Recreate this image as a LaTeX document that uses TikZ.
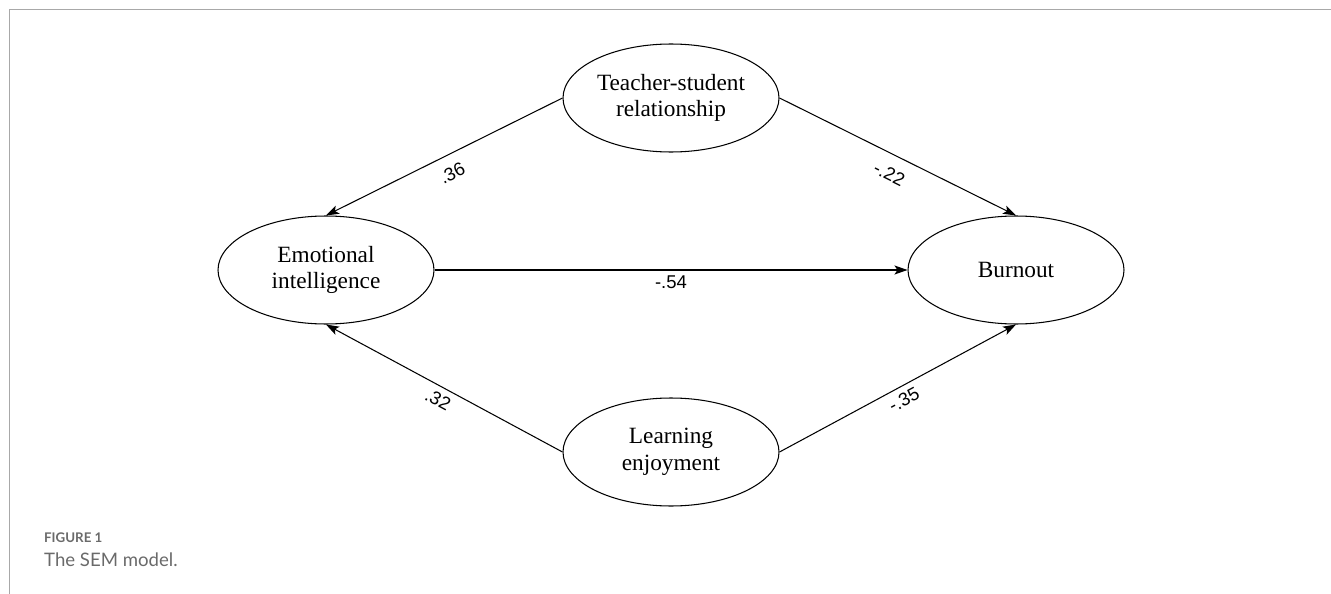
\documentclass[tikz,border=0pt]{standalone}
\usepackage{fontspec}
\setmainfont{Liberation Serif}
\newfontfamily\labfont{Liberation Sans}
\newfontfamily\capfont{Lato}
\usetikzlibrary{shapes.geometric,arrows.meta}
\definecolor{framegray}{HTML}{A8A8A8}
\definecolor{capgray}{HTML}{6A6A6A}
\begin{document}
\begin{tikzpicture}[x=1pt,y=-1pt,
  lv/.style={ellipse, draw, line width=1.05pt, minimum width=216pt, minimum height=108pt,
    inner sep=0pt, align=center, font=\fontsize{23.3}{26.5}\selectfont},
  conn/.style={-{Stealth[length=13pt,width=9pt,inset=3pt]}, line width=1.05pt},
  lbl/.style={font=\labfont\fontsize{18.5}{20}\selectfont, sloped, inner sep=0pt, pos=0.5},
  capt/.style={anchor=base west, inner sep=0pt, text=capgray}
]
\useasboundingbox (0,0) rectangle (1331,594);
\draw[framegray, line width=1.5pt] (9.5,594) -- (9.5,9.5) -- (1331,9.5);

\node[lv] (tsr) at (671,98) {Teacher-student\\relationship};
\node[lv] (ei) at (326,270) {Emotional\\intelligence};
\node[lv] (bo) at (1016,270) {Burnout};
\node[lv] (le) at (671,452) {Learning\\enjoyment};

\draw[conn] (tsr.west) -- node[lbl, below=11pt] {.36} (ei.north);
\draw[conn] (tsr.east) -- node[lbl, below=12pt] {-.22} (bo.north);
\draw[conn] (ei.east) -- node[lbl, below=5pt] {-.54} (bo.west);
\draw[conn] (le.west) -- node[lbl, below=6pt] {.32} (ei.south);
\draw[conn] (le.east) -- node[lbl, below=6pt] {-.35} (bo.south);

\node[capt, font=\capfont\bfseries\fontsize{13.3}{15}\selectfont] (fig) at (44,542) {FIGURE 1};
\node[capt, font=\capfont\fontsize{18.6}{20}\selectfont] (cap) at (44,566) {The SEM model.};
\end{tikzpicture}
\end{document}
